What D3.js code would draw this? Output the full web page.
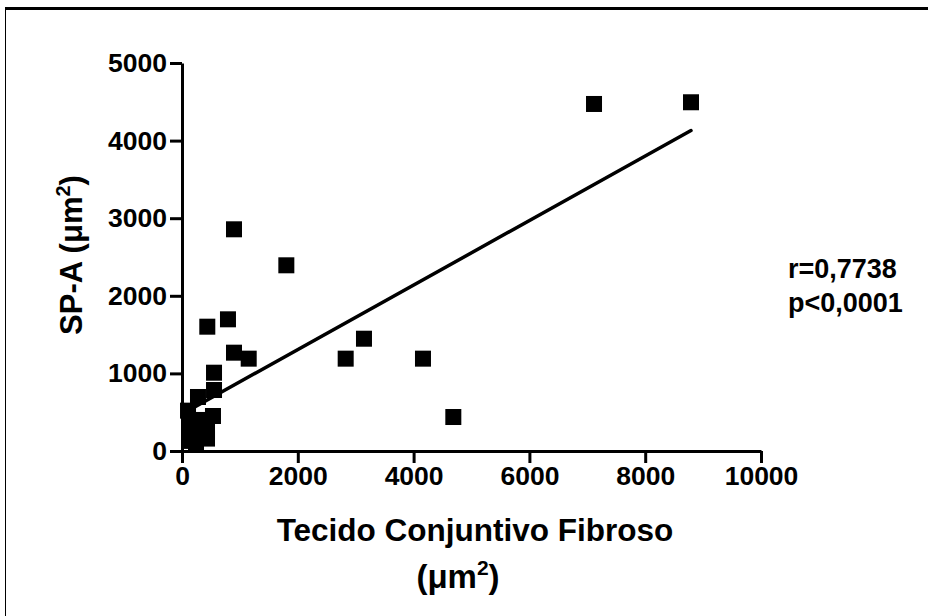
<!DOCTYPE html>
<html>
<head>
<meta charset="utf-8">
<script src="https://cdn.jsdelivr.net/npm/d3@7"></script>
<style>
  html, body { margin: 0; padding: 0; background: #fff; }
  svg { display: block; font-family: "Liberation Sans", Arial, sans-serif; font-weight: bold; }
</style>
</head>
<body>
<svg id="chart" width="928" height="616"></svg>
<script>
// Fibrous connective tissue area (x) vs SP-A area (y), both in µm²
const tecidoConjuntivo = [8791, 7116, 898, 1802, 794, 437, 3143, 898, 1152, 2827, 4162, 553, 553, 276, 535, 4686,
                          104, 121, 121, 294, 311, 432, 432, 242, 190];
const spA =              [4494, 4472, 2857, 2393, 1697, 1602, 1447, 1267, 1190, 1190, 1190, 1009, 786, 696, 451, 438,
                          520, 330, 130, 400, 180, 250, 160, 90, 230];

const xTicks = [0, 2000, 4000, 6000, 8000, 10000];
const yTicks = [0, 1000, 2000, 3000, 4000, 5000];

// Linear regression line
const fitSlope = 0.4156;
const fitIntercept = 476;
const statsLines = ["r=0,7738", "p<0,0001"];

const svg = d3.select("#chart");

// Outer frame: heavy top rule and thin left rule
svg.append("line").attr("x1", 5).attr("x2", 928).attr("y1", 8.5).attr("y2", 8.5)
  .attr("stroke", "#000").attr("stroke-width", 3);
svg.append("line").attr("x1", 5.5).attr("x2", 5.5).attr("y1", 8).attr("y2", 616)
  .attr("stroke", "#000").attr("stroke-width", 1);

const x = d3.scaleLinear().domain([0, 10000]).range([182, 761]);
const y = d3.scaleLinear().domain([0, 5000]).range([451, 63]);

function styleAxis(g) {
  g.select(".domain").attr("stroke", "#000").attr("stroke-width", 3);
  g.selectAll(".tick line").attr("stroke", "#000").attr("stroke-width", 3);
  g.selectAll(".tick text").attr("fill", "#000")
    .style("font-size", "26.5px").style("font-weight", "bold")
    .style("font-family", "'Liberation Sans', Arial, sans-serif");
}

svg.append("g")
  .attr("transform", "translate(0,451)")
  .call(d3.axisBottom(x).tickValues(xTicks).tickFormat(d3.format("d"))
    .tickSize(12).tickSizeOuter(0).tickPadding(3))
  .call(styleAxis);

svg.append("g")
  .attr("transform", "translate(182,0)")
  .call(d3.axisLeft(y).tickValues(yTicks).tickFormat(d3.format("d"))
    .tickSize(12).tickSizeOuter(0).tickPadding(3))
  .call(styleAxis);

// Regression line across the observed x range
const xExt = d3.extent(tecidoConjuntivo);
svg.append("line")
  .attr("x1", x(xExt[0])).attr("y1", y(fitIntercept + fitSlope * xExt[0]))
  .attr("x2", x(xExt[1])).attr("y2", y(fitIntercept + fitSlope * xExt[1]))
  .attr("stroke", "#000").attr("stroke-width", 3.5).attr("stroke-linecap", "round");

// Square markers
const size = 16;
svg.append("g").selectAll("rect")
  .data(d3.zip(tecidoConjuntivo, spA))
  .join("rect")
  .attr("x", d => x(d[0]) - size / 2)
  .attr("y", d => y(d[1]) - size / 2)
  .attr("width", size).attr("height", size)
  .attr("fill", "#000");

// X axis title (two lines)
const xTitle = svg.append("g").attr("fill", "#000");
xTitle.append("text").attr("x", 475).attr("y", 541).attr("text-anchor", "middle")
  .style("font-size", "31.5px")
  .text("Tecido Conjuntivo Fibroso");
const xUnit = xTitle.append("text").attr("x", 458).attr("y", 588).attr("text-anchor", "middle")
  .style("font-size", "33px");
xUnit.append("tspan").text("(μm");
xUnit.append("tspan").attr("dy", -13).style("font-size", "21px").text("2");
xUnit.append("tspan").attr("dy", 13).text(")");

// Y axis title
const yTitle = svg.append("text")
  .attr("transform", "translate(82,255) rotate(-90)")
  .attr("text-anchor", "middle").attr("fill", "#000").style("font-size", "31px");
yTitle.append("tspan").text("SP-A (μm");
yTitle.append("tspan").attr("dy", -12).style("font-size", "20px").text("2");
yTitle.append("tspan").attr("dy", 12).text(")");

// Correlation statistics
svg.append("g").selectAll("text")
  .data(statsLines)
  .join("text")
  .attr("x", 788).attr("y", (d, i) => 278 + i * 34)
  .attr("fill", "#000").style("font-size", "27px")
  .text(d => d);
</script>
</body>
</html>
